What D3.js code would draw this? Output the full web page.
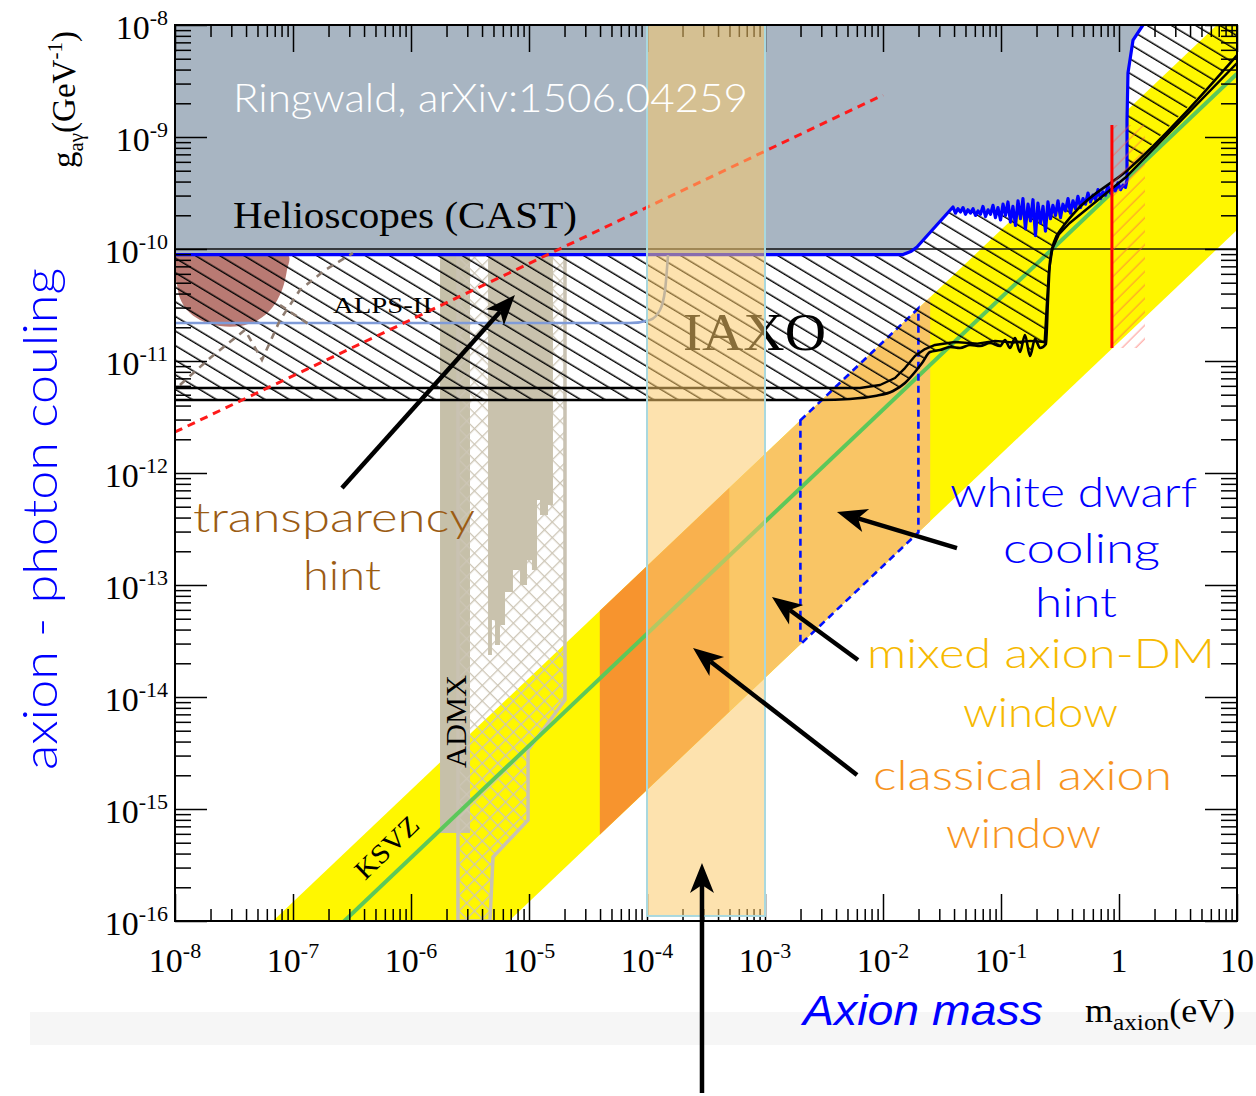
<!DOCTYPE html>
<html><head><meta charset="utf-8">
<script src="https://cdn.jsdelivr.net/npm/d3@7"></script>
<style>body{margin:0;background:#fff;}svg{display:block}</style>
</head><body>
<svg id="c" width="1256" height="1096"></svg>
<script>
// ---------- data (log10 of axion mass in eV, log10 of g in GeV^-1) ----------
const xDecades = [-8,-7,-6,-5,-4,-3,-2,-1,0,1];
const xTickBase = ["10","10","10","10","10","10","10","10","1","10"];
const xTickExp  = ["-8","-7","-6","-5","-4","-3","-2","-1","",""];
const yDecades = [-8,-9,-10,-11,-12,-13,-14,-15,-16];
const yTickBase = ["10","10","10","10","10","10","10","10","10"];
const yTickExp  = ["-8","-9","-10","-11","-12","-13","-14","-15","-16"];

const castLogM = [-8,-1.83,-1.76,-1.712,
 -1.407,-1.386,-1.365,-1.343,-1.322,-1.301,-1.280,-1.259,-1.237,-1.216,-1.195,-1.174,-1.153,-1.131,-1.110,-1.089,-1.068,-1.047,-1.026,-1.004,
 -0.983,-0.962,-0.941,-0.920,-0.899,-0.877,-0.856,-0.835,-0.814,-0.793,-0.771,-0.750,-0.729,-0.708,-0.687,-0.665,-0.644,-0.623,-0.602,-0.581,
 -0.560,-0.538,-0.517,-0.496,-0.475,-0.454,-0.432,-0.411,-0.390,-0.369,-0.348,-0.326,-0.305,-0.284,-0.263,-0.242,-0.221,-0.199,-0.178,-0.157,
 -0.136,-0.115,-0.093,-0.072,-0.051,-0.030,-0.009,0.013,0.034,0.055,0.068,
 0.068,0.076,0.119,0.203];
const castLogG = [-10.05,-10.05,-10.02,-9.982,
 -9.625,-9.68,-9.64,-9.67,-9.63,-9.69,-9.65,-9.68,-9.64,-9.70,-9.66,-9.69,-9.62,-9.71,-9.65,-9.69,-9.61,-9.72,-9.63,-9.74,
 -9.60,-9.70,-9.58,-9.76,-9.62,-9.79,-9.57,-9.73,-9.55,-9.82,-9.60,-9.75,-9.56,-9.88,-9.59,-9.77,-9.62,-9.84,-9.58,-9.73,
 -9.61,-9.70,-9.57,-9.72,-9.60,-9.66,-9.55,-9.68,-9.57,-9.64,-9.53,-9.63,-9.55,-9.60,-9.50,-9.58,-9.52,-9.56,-9.47,-9.55,
 -9.49,-9.52,-9.44,-9.50,-9.46,-9.48,-9.41,-9.47,-9.43,-9.45,-9.384,
 -8.848,-8.429,-8.134,-8.0];

const iaxoALogM = [-8,-2.534,-2.280,-2.068,-1.915,-1.814,-1.729,-1.669,-1.602,-1.517,-1.432,-1.347,-1.263,-1.178,-1.093,-1.008,-0.966,-0.924,-0.881,-0.839,-0.797,-0.754,-0.712,-0.669,-0.619,-0.602,-0.585,-0.551,-0.483,-0.373,0.068,1];
const iaxoALogG = [-11.348,-11.348,-11.339,-11.313,-11.268,-11.196,-11.098,-11.018,-10.920,-10.902,-10.875,-10.884,-10.857,-10.866,-10.839,-10.866,-10.813,-10.884,-10.795,-10.920,-10.768,-10.955,-10.804,-10.884,-10.848,-10.455,-10.116,-9.938,-9.813,-9.670,-9.30,-8.27];
const iaxoBLogM = [-8,-2.195,-2.025,-1.898,-1.814,-1.729,-1.644,-1.559,-1.39,-1.2,-1.05,-0.9,-0.75,-0.63,-0.612,-0.594,-0.565,-0.51,-0.42,0.068,1];
const iaxoBLogG = [-11.241,-11.241,-11.214,-11.152,-11.063,-10.955,-10.893,-10.857,-10.83,-10.845,-10.82,-10.835,-10.82,-10.83,-10.5,-10.2,-10.0,-9.87,-9.77,-9.35,-8.34];

const hintLogM = [-8,-7.042,-7.051,-7.093,-7.178,-7.297,-7.449,-7.619,-7.788,-7.898,-7.958,-7.983,-8];
const hintLogG = [-10.054,-10.054,-10.188,-10.366,-10.527,-10.634,-10.688,-10.688,-10.634,-10.545,-10.438,-10.321,-10.232];
const dash1LogM = [-7.958,-7.703,-7.407,-7.263,-7.110,-6.941,-6.729,-6.492];
const dash1LogG = [-11.214,-10.973,-10.723,-10.991,-10.634,-10.366,-10.188,-10.036];
const dash2LogM = [-7.110,-6.856];
const dash2LogG = [-10.5,-10.679];

const alpsLogM = [-8,-4.144,-3.975,-3.890,-3.847,-3.822];
const alpsLogG = [-10.661,-10.661,-10.634,-10.545,-10.366,-10.054];

const admxLogM = [-5.754,-5.5];
const admxLogG = [-10.054,-15.214];
const admxFutLogM = [-5.602,-4.695,-4.695,-5.008,-5.008,-5.305,-5.331,-5.602];
const admxFutLogG = [-10.054,-10.054,-14.027,-14.473,-15.098,-15.429,-16,-16];
const admxHFLogM = [-5.347,-4.797,-4.797,-4.839,-4.839,-4.907,-4.907,-4.932,-4.932,-4.975,-4.975,-5.017,-5.017,-5.076,-5.076,-5.136,-5.136,-5.203,-5.203,-5.246,-5.246,-5.288,-5.288,-5.314,-5.314,-5.347];
const admxHFLogG = [-10.054,-10.054,-12.286,-12.286,-12.375,-12.375,-12.241,-12.241,-12.866,-12.866,-12.777,-12.777,-13.0,-13.0,-12.866,-12.866,-13.063,-13.063,-13.357,-13.357,-13.536,-13.536,-13.313,-13.313,-13.625,-13.625];

const ksvzLogM = [-8,1];
const ksvzLogG = [-17.435,-8.435];
const bandLogM = [-7.17,0.83,1,1,-5.17];
const bandLogG = [-16,-8,-8,-9.83,-16];
const classicalLogM = [-4.4,-3.3,-3.3,-4.4];
const classicalLogG = [-13.23,-12.13,-14.13,-15.23];
const mixedLogM = [-3.3,-1.6,-1.6,-3.3];
const mixedLogG = [-12.13,-10.43,-12.43,-14.13];
const wdLogM = [-2.70,-1.70,-1.70,-2.70];
const wdLogG = [-11.53,-10.53,-12.53,-13.53];
const columnLogM = [-4,-3];
const columnLogG = [-8,-15.955];
const hbLogM = [-8,1];
const hbLogG = [-10,-10];
const redDashLogM = [-8,-2];
const redDashLogG = [-11.634,-8.625];
const redVertLogM = [-0.06,-0.06];
const redVertLogG = [-8.893,-10.884];
const redHatchLogM = [-0.06,0.22];
const pinkDashLogM = [-3.0,-3.0];
const pinkDashLogG = [-11.83,-14.29];

// arrows
const arrowTailLogM = [-6.585,-1.373,-2.212,-2.220,-3.534];
const arrowTailLogG = [-12.134,-12.670,-13.670,-14.696,-17.536];
const arrowHeadLogM = [-5.119,-2.390,-2.941,-3.610,-3.534];
const arrowHeadLogG = [-10.411,-12.348,-13.107,-13.563,-15.482];

// ---------- drawing ----------
const L=175,R=1237,T=25,B=921;
const svg = d3.select("#c");
const x = d3.scaleLog().domain([1e-8,10]).range([L,R]);
const y = d3.scaleLog().domain([1e-16,1e-8]).range([B,T]);
const P = (lm,lg)=>[x(Math.pow(10,lm)), y(Math.pow(10,lg))];
const pts = (ms,gs)=>ms.map((m,i)=>P(m,gs[i]));
const line = d3.line();
const polyPath = (ms,gs)=>line(pts(ms,gs))+"Z";
const SERIF = "'Liberation Serif','Times New Roman',serif";
const HAND = "Lato,'Open Sans',sans-serif";

const defs = svg.append("defs");
defs.append("clipPath").attr("id","clip").append("rect").attr("x",L).attr("y",T).attr("width",R-L).attr("height",B-T);
const hp = defs.append("pattern").attr("id","hatch").attr("patternUnits","userSpaceOnUse")
  .attr("width",40).attr("height",12.5).attr("patternTransform","rotate(31)");
hp.append("path").attr("d","M-2,6H42").attr("stroke","#000").attr("stroke-width",1.3);
const cp = defs.append("pattern").attr("id","cross").attr("patternUnits","userSpaceOnUse")
  .attr("width",11).attr("height",11).attr("patternTransform","rotate(45)");
cp.append("path").attr("d","M0,0.5H11M0.5,0V11").attr("stroke","#cdc6b6").attr("stroke-width",1.6);
const pp = defs.append("pattern").attr("id","pink").attr("patternUnits","userSpaceOnUse")
  .attr("width",20).attr("height",9.5).attr("patternTransform","rotate(-45)");
pp.append("path").attr("d","M-2,4H22").attr("stroke","rgba(255,90,80,0.55)").attr("stroke-width",1.2);

svg.append("rect").attr("x",30).attr("y",1012).attr("width",1226).attr("height",33).attr("fill","#f6f6f6");

const g = svg.append("g").attr("clip-path","url(#clip)");
g.append("path").attr("d",polyPath(bandLogM,bandLogG)).attr("fill","#fff700");
g.append("path").attr("d",polyPath(classicalLogM,classicalLogG)).attr("fill","#f7942e");
g.append("path").attr("d",polyPath(mixedLogM,mixedLogG)).attr("fill","#f9c565");

// ADMX
const a0=P(admxLogM[0],admxLogG[0]), a1=P(admxLogM[1],admxLogG[1]);
g.append("rect").attr("x",a0[0]).attr("y",a0[1]).attr("width",a1[0]-a0[0]).attr("height",a1[1]-a0[1]).attr("fill","#c6c0a9");
g.append("path").attr("d",polyPath(admxFutLogM,admxFutLogG)).attr("fill","url(#cross)").attr("stroke","#c9c2b2").attr("stroke-width",3.5);
g.append("path").attr("d",polyPath(admxHFLogM,admxHFLogG)).attr("fill","#c9c2ad");

// KSVZ
g.append("path").attr("d",line(pts(ksvzLogM,ksvzLogG))).attr("stroke","#5cc85a").attr("stroke-width",4).attr("fill","none");
// WD outline
g.append("path").attr("d",polyPath(wdLogM,wdLogG)).attr("fill","none").attr("stroke","#0010ff").attr("stroke-width",2.6).attr("stroke-dasharray","7,5");
g.append("path").attr("d",line(pts(pinkDashLogM,pinkDashLogG))).attr("stroke","#e47c93").attr("stroke-width",1.2).attr("stroke-dasharray","4,3").attr("fill","none");

// transparency hint blob
g.append("path").attr("d",d3.line().curve(d3.curveCatmullRomClosed)(pts(hintLogM,hintLogG))).attr("fill","#b97a73");

// IAXO hatch region
const castPts = pts(castLogM,castLogG);
const iaxoAPts = pts(iaxoALogM,iaxoALogG);
const hatchPts = castPts.concat([P(1,-8)]).concat(iaxoAPts.slice().reverse());
g.append("path").attr("d",line(hatchPts)+"Z").attr("fill","url(#hatch)");

// CAST excluded region
g.append("path").attr("d",line(castPts.concat([P(-8,-8)]))+"Z").attr("fill","#a8b5c2");
g.append("path").attr("d",line(pts(hbLogM,hbLogG))).attr("stroke","#111").attr("stroke-width",1.3);
g.append("path").attr("d",line(castPts)).attr("stroke","#0000ff").attr("stroke-width",3.2).attr("fill","none").attr("stroke-linejoin","round");

// ALPS-II and dashed hint boundaries
g.append("path").attr("d",d3.line().curve(d3.curveMonotoneX)(pts(alpsLogM,alpsLogG))).attr("stroke","#7f9bd8").attr("stroke-width",2.6).attr("fill","none");
[[dash1LogM,dash1LogG],[dash2LogM,dash2LogG]].forEach(([m,gg])=>{
  g.append("path").attr("d",line(pts(m,gg))).attr("stroke","#8e7c70").attr("stroke-width",2.6).attr("stroke-dasharray","7,6").attr("fill","none");
});

// IAXO lines
g.append("path").attr("d",d3.line().curve(d3.curveMonotoneX)(iaxoAPts)).attr("stroke","#000").attr("stroke-width",2.6).attr("fill","none").attr("stroke-linejoin","round");
g.append("path").attr("d",d3.line()(pts(iaxoBLogM,iaxoBLogG))).attr("stroke","#000").attr("stroke-width",2.4).attr("fill","none").attr("stroke-linejoin","round");

// red dashed line
g.append("path").attr("d",line(pts(redDashLogM,redDashLogG))).attr("stroke","#ff1a1a").attr("stroke-width",3).attr("stroke-dasharray","8,6").attr("fill","none");
// red vertical + hatch
const r0=P(redHatchLogM[0],redVertLogG[0]), r1=P(redHatchLogM[1],redVertLogG[1]);
g.append("rect").attr("x",r0[0]).attr("y",r0[1]).attr("width",r1[0]-r0[0]).attr("height",r1[1]-r0[1]).attr("fill","url(#pink)");
g.append("path").attr("d",line(pts(redVertLogM,redVertLogG))).attr("stroke","#ff0000").attr("stroke-width",3);

// labels inside plot
const txt=(s,xx,yy,size,opts={})=>{
  const t=g.append("text").attr("x",xx).attr("y",yy).attr("font-size",size).attr("font-family",opts.family||SERIF)
    .attr("fill",opts.fill||"#000").text(s);
  if(opts.len) t.attr("textLength",opts.len).attr("lengthAdjust","spacingAndGlyphs");
  if(opts.tr) t.attr("transform",opts.tr);
  return t;
};
txt("Helioscopes (CAST)",233,228,38,{len:344});
txt("IAXO",683,350,52,{len:143});
txt("ALPS-II",333,313,23,{len:99});
txt("ADMX",0,0,30,{len:93,tr:"translate(466,768) rotate(-90)"});
txt("KSVZ",0,0,27,{len:78,tr:"translate(365,881) rotate(-44)"});

// ticks
function ticks(gen,tx,ty,vals,size){
  svg.append("g").attr("transform",`translate(${tx},${ty})`)
   .call(gen.tickValues(vals).tickSizeInner(size).tickSizeOuter(0).tickFormat(()=>""))
   .call(s=>s.select(".domain").remove())
   .call(s=>s.selectAll("line").attr("stroke","#000").attr("stroke-width",1.5));
}
const xMaj = xDecades.map(d=>Math.pow(10,d));
const xMin = []; xDecades.slice(0,-1).forEach(d=>{for(let k=2;k<10;k++) xMin.push(k*Math.pow(10,d));});
const yMaj = yDecades.map(d=>Math.pow(10,d));
const yMin = []; yDecades.slice(1).forEach(d=>{for(let k=2;k<10;k++) yMin.push(k*Math.pow(10,d));});
ticks(d3.axisBottom(x),0,B,xMaj,-27); ticks(d3.axisBottom(x),0,B,xMin,-12);
ticks(d3.axisTop(x),0,T,xMaj,-27); ticks(d3.axisTop(x),0,T,xMin,-12);
ticks(d3.axisLeft(y),L,0,yMaj,-32); ticks(d3.axisLeft(y),L,0,yMin,-16);
ticks(d3.axisRight(y),R,0,yMaj,-32); ticks(d3.axisRight(y),R,0,yMin,-16);

// tick labels
xDecades.forEach((d,i)=>{
  const t=svg.append("text").attr("x",x(Math.pow(10,d))).attr("y",972).attr("text-anchor","middle")
    .attr("font-family",SERIF).attr("font-size",34).text(xTickBase[i]);
  if(xTickExp[i]) t.append("tspan").attr("dy",-14).attr("font-size",22).text(xTickExp[i]);
});
yDecades.forEach((d,i)=>{
  const t=svg.append("text").attr("x",168).attr("y",y(Math.pow(10,d))+14).attr("text-anchor","end")
    .attr("font-family",SERIF).attr("font-size",34).text(yTickBase[i]);
  t.append("tspan").attr("dy",-14).attr("font-size",22).text(yTickExp[i]);
});

// column overlay
const c0=P(columnLogM[0],columnLogG[0]), c1=P(columnLogM[1],columnLogG[1]);
svg.append("rect").attr("x",c0[0]).attr("y",c0[1]).attr("width",c1[0]-c0[0]).attr("height",c1[1]-c0[1])
  .attr("fill","rgba(251,201,105,0.54)").attr("stroke","#a9d8de").attr("stroke-width",2);

// frame
svg.append("rect").attr("x",L).attr("y",T).attr("width",R-L).attr("height",B-T).attr("fill","none").attr("stroke","#000").attr("stroke-width",2);

// Ringwald
svg.append("text").attr("x",233).attr("y",112).attr("font-family",HAND).attr("font-weight",300).attr("font-size",40)
  .attr("fill","#fff").attr("textLength",515).attr("lengthAdjust","spacingAndGlyphs").text("Ringwald, arXiv:1506.04259");

// annotations
const ann=(s,xx,yy,size,fill,len)=>svg.append("text").attr("x",xx).attr("y",yy).attr("font-size",size)
  .attr("font-family",HAND).attr("font-weight",300).attr("fill",fill).attr("textLength",len).attr("lengthAdjust","spacingAndGlyphs").text(s);
ann("transparency",193,532,42,"#9b5c14",282);
ann("hint",303,590,42,"#9b5c14",78);
ann("white dwarf",950,507,42,"#0000ff",247);
ann("cooling",1003,563,42,"#0000ff",157);
ann("hint",1035,617,42,"#0000ff",82);
ann("mixed axion-DM",867,668,42,"#f6b900",348);
ann("window",963,727,42,"#f6b900",155);
ann("classical axion",873,790,42,"#f7941d",299);
ann("window",946,848,42,"#f7941d",155);
svg.append("text").attr("transform","translate(57,770) rotate(-90)").attr("font-family",HAND).attr("font-weight",300)
  .attr("font-size",48).attr("fill","#0000ff").attr("textLength",502).attr("lengthAdjust","spacingAndGlyphs").text("axion - photon couling");

// g axis label
const gl=svg.append("text").attr("transform","translate(75,168) rotate(-90)").attr("font-family",SERIF).attr("font-size",33);
gl.append("tspan").text("g");
gl.append("tspan").attr("dy",8).attr("font-size",21).text("aγ");
gl.append("tspan").attr("dy",-8).attr("font-size",33).text("(GeV");
gl.append("tspan").attr("dy",-13).attr("font-size",21).text("-1");
gl.append("tspan").attr("dy",13).attr("font-size",33).text(")");

// x axis label
svg.append("text").attr("x",803).attr("y",1025).attr("font-family","'Liberation Sans',Arial,sans-serif").attr("font-style","italic")
  .attr("font-size",42).attr("fill","#0000ff").attr("textLength",240).attr("lengthAdjust","spacingAndGlyphs").text("Axion mass");
const ml=svg.append("text").attr("x",1085).attr("y",1022).attr("font-family",SERIF).attr("font-size",34).attr("textLength",150).attr("lengthAdjust","spacingAndGlyphs");
ml.append("tspan").text("m");
ml.append("tspan").attr("dy",8).attr("font-size",24).text("axion");
ml.append("tspan").attr("dy",-8).attr("font-size",34).text("(eV)");

// arrows
arrowTailLogM.forEach((_,i)=>{
  const t=P(arrowTailLogM[i],arrowTailLogG[i]), h=P(arrowHeadLogM[i],arrowHeadLogG[i]);
  const dx=h[0]-t[0], dy=h[1]-t[1], len=Math.hypot(dx,dy), ux=dx/len, uy=dy/len, nx=-uy, ny=ux;
  const Lh=30, W=12, notch=8;
  const nb=[h[0]-(Lh-notch)*ux, h[1]-(Lh-notch)*uy];
  svg.append("path").attr("d",`M${t[0]},${t[1]}L${nb[0]},${nb[1]}`).attr("stroke","#000").attr("stroke-width",4.5);
  svg.append("path").attr("d",`M${h[0]},${h[1]}L${h[0]-Lh*ux+W*nx},${h[1]-Lh*uy+W*ny}L${nb[0]},${nb[1]}L${h[0]-Lh*ux-W*nx},${h[1]-Lh*uy-W*ny}Z`).attr("fill","#000");
});
</script>
</body></html>
